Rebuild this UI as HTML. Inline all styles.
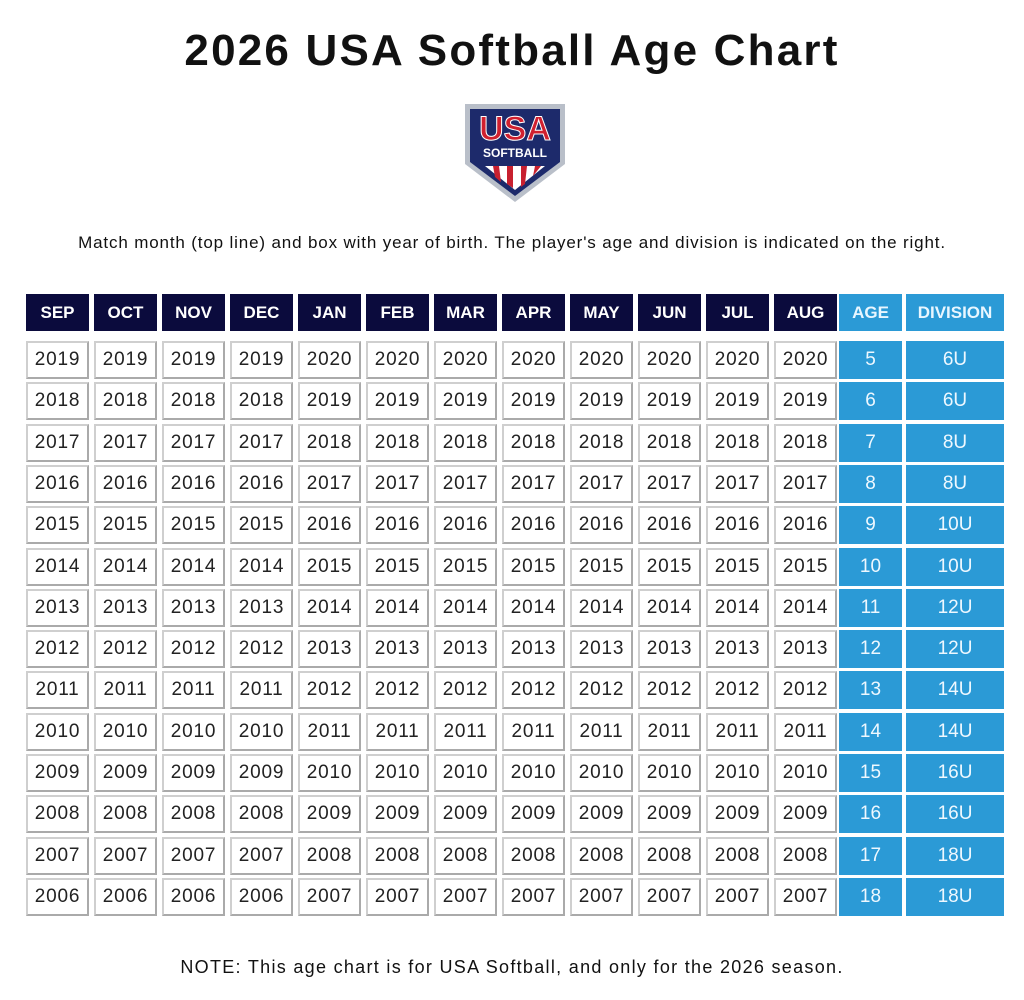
<!DOCTYPE html>
<html><head><style>
body{margin:0;width:1024px;height:1000px;background:#fff;font-family:"Liberation Sans",sans-serif;position:relative;overflow:hidden}
.t{position:absolute;left:0;width:1024px;text-align:center;color:#111}
.c{position:absolute;box-sizing:border-box;display:flex;align-items:center;justify-content:center}
.h{background:#0b0b3d;color:#fff;font-weight:bold;font-size:17px}
.hb{background:#2b9ad6;color:#e8f6ff;font-weight:bold;font-size:17px}
.d{background:#fff;border:2px solid #cfcfcf;border-right-color:#aaa;border-bottom-color:#aaa;color:#222;font-size:19px;letter-spacing:0.8px}
.b{background:#2b9ad6;color:#eef8ff;font-size:19px}
</style></head><body>
<div class="t" style="top:26px;font-size:44px;font-weight:bold;letter-spacing:2.2px">2026 USA Softball Age Chart</div>
<svg style="position:absolute;left:463px;top:102px" width="106" height="104" viewBox="0 0 106 104">
<path d="M2 2H102V62L52 100L2 62Z" fill="#b9bfc9"/>
<path d="M7 7H97V60L52 94L7 60Z" fill="#1d2a6b"/>
<path d="M22 64H82L52 88Z" fill="#fff"/>
<path d="M30 64h6l2 16l-6 -5zM44 64h6v22l-6-4zM58 64h6l-2 18l-4 3zM72 64h6l-8 10z" fill="#c8202f"/>
<text x="52" y="38" text-anchor="middle" font-family="Liberation Sans" font-weight="bold" font-size="34" fill="#d0202f" stroke="#fff" stroke-width="1">USA</text>
<text x="52" y="55" text-anchor="middle" font-family="Liberation Sans" font-weight="bold" font-size="12" fill="#fff">SOFTBALL</text>
</svg>
<div class="t" style="top:233px;font-size:17px;letter-spacing:0.85px">Match month (top line) and box with year of birth. The player's age and division is indicated on the right.</div>
<div id="g"></div>
<div class="t" style="top:957px;font-size:18px;letter-spacing:1.3px">NOTE: This age chart is for USA Softball, and only for the 2026 season.</div>
<script>
var m=["SEP","OCT","NOV","DEC","JAN","FEB","MAR","APR","MAY","JUN","JUL","AUG"],h="";
var div=["6U","6U","8U","8U","10U","10U","12U","12U","14U","14U","16U","16U","18U","18U"];
for(var i=0;i<12;i++)h+='<div class="c h" style="left:'+(26+68*i)+'px;top:294px;width:63px;height:37px">'+m[i]+'</div>';
h+='<div class="c hb" style="left:839px;top:294px;width:63px;height:37px">AGE</div>';
h+='<div class="c hb" style="left:906px;top:294px;width:98px;height:37px">DIVISION</div>';
for(var r=0;r<14;r++){var y=Math.round(341+41.3*r);
for(var i=0;i<12;i++){var yr=(i<4?2019:2020)-r;h+='<div class="c d" style="left:'+(26+68*i)+'px;top:'+y+'px;width:63px;height:38px">'+yr+'</div>';}
h+='<div class="c b" style="left:839px;top:'+y+'px;width:63px;height:38px">'+(5+r)+'</div>';
h+='<div class="c b" style="left:906px;top:'+y+'px;width:98px;height:38px">'+div[r]+'</div>';}
document.getElementById("g").innerHTML=h;
</script>
</body></html>
